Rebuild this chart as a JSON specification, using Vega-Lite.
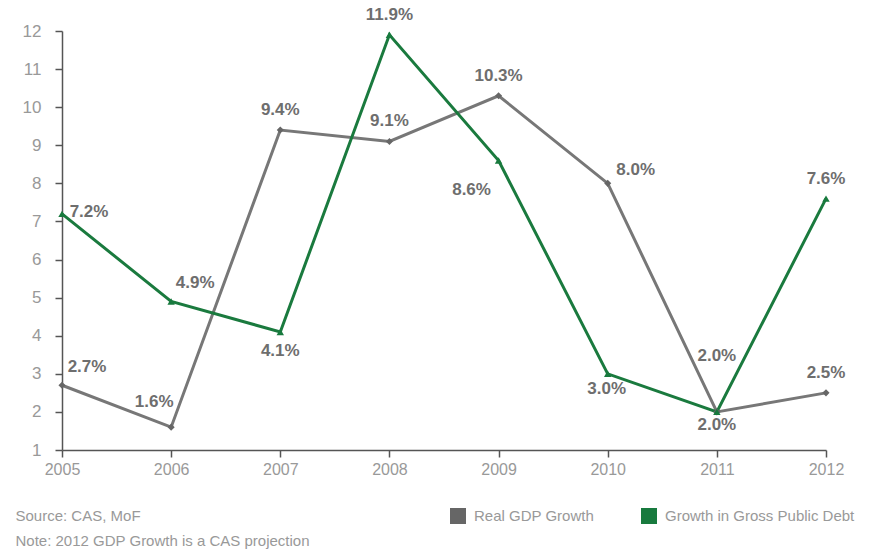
{
  "$schema": "https://vega.github.io/schema/vega-lite/v6.json",
  "width": 764,
  "height": 419,
  "autosize": {"type": "none"},
  "padding": {"left": 62, "top": 31, "right": 53, "bottom": 105},
  "background": "white",
  "config": {
    "view": {"stroke": null},
    "font": "'Liberation Sans', Arial, sans-serif"
  },
  "data": {
    "values": [
      {"year": 2005, "series": "Real GDP Growth", "value": 2.7},
      {"year": 2006, "series": "Real GDP Growth", "value": 1.6},
      {"year": 2007, "series": "Real GDP Growth", "value": 9.4},
      {"year": 2008, "series": "Real GDP Growth", "value": 9.1},
      {"year": 2009, "series": "Real GDP Growth", "value": 10.3},
      {"year": 2010, "series": "Real GDP Growth", "value": 8.0},
      {"year": 2011, "series": "Real GDP Growth", "value": 2.0},
      {"year": 2012, "series": "Real GDP Growth", "value": 2.5},
      {"year": 2005, "series": "Growth in Gross Public Debt", "value": 7.2},
      {"year": 2006, "series": "Growth in Gross Public Debt", "value": 4.9},
      {"year": 2007, "series": "Growth in Gross Public Debt", "value": 4.1},
      {"year": 2008, "series": "Growth in Gross Public Debt", "value": 11.9},
      {"year": 2009, "series": "Growth in Gross Public Debt", "value": 8.6},
      {"year": 2010, "series": "Growth in Gross Public Debt", "value": 3.0},
      {"year": 2011, "series": "Growth in Gross Public Debt", "value": 2.0},
      {"year": 2012, "series": "Growth in Gross Public Debt", "value": 7.6}
    ]
  },
  "transform": [
    {"calculate": "format(datum.value, '.1f') + '%'", "as": "label"},
    {"calculate": "datum.series === 'Real GDP Growth' ? 'G' : 'D'", "as": "s"}
  ],
  "encoding": {
    "x": {
      "field": "year",
      "type": "quantitative",
      "scale": {"domain": [2005, 2012], "nice": false, "zero": false},
      "axis": {
        "title": ["Source: CAS, MoF", "Note: 2012 GDP Growth is a CAS projection"],
        "titleAnchor": "start",
        "titleAlign": "left",
        "titleBaseline": "top",
        "titleX": -47,
        "titleY": 58,
        "titleFontSize": 15,
        "titleFontWeight": "normal",
        "titleColor": "#999999",
        "titleLineHeight": 25,
        "values": [2005, 2006, 2007, 2008, 2009, 2010, 2011, 2012],
        "format": "d",
        "grid": false,
        "domainColor": "#555555",
        "domainWidth": 1.5,
        "tickColor": "#555555",
        "tickWidth": 1.5,
        "tickSize": 7,
        "labelColor": "#999999",
        "labelFontSize": 16,
        "labelPadding": 4,
        "labelFlush": false
      }
    },
    "y": {
      "field": "value",
      "type": "quantitative",
      "scale": {"domain": [1, 12], "nice": false, "zero": false},
      "axis": {
        "title": null,
        "values": [1, 2, 3, 4, 5, 6, 7, 8, 9, 10, 11, 12],
        "grid": false,
        "domainColor": "#555555",
        "domainWidth": 1.5,
        "tickColor": "#555555",
        "tickWidth": 1.5,
        "tickSize": 7,
        "labelColor": "#999999",
        "labelFontSize": 17,
        "labelPadding": 14
      }
    }
  },
  "layer": [
    {
      "transform": [{"filter": "datum.s === 'G'"}],
      "mark": {"type": "line", "strokeWidth": 3, "color": "#777777"},
      "encoding": {}
    },
    {
      "transform": [{"filter": "datum.s === 'D'"}],
      "mark": {"type": "line", "strokeWidth": 3, "color": "#1a7a3e"},
      "encoding": {}
    },
    {
      "transform": [{"filter": "datum.s === 'G'"}],
      "mark": {"type": "point", "shape": "diamond", "filled": true, "opacity": 1, "size": 50},
      "encoding": {
        "color": {
          "field": "series",
          "type": "nominal",
          "scale": {
            "domain": ["Real GDP Growth", "Growth in Gross Public Debt"],
            "range": ["#666666", "#187a3e"]
          },
          "legend": {
            "title": null,
            "orient": "none",
            "legendX": 388,
            "legendY": 477,
            "direction": "horizontal",
            "symbolType": "square",
            "symbolSize": 256,
            "symbolStrokeWidth": 0,
            "symbolOpacity": 1,
            "labelColor": "#999999",
            "labelFontSize": 15,
            "labelOffset": 8,
            "labelLimit": 400,
            "columnPadding": 46
          }
        }
      }
    },
    {
      "transform": [{"filter": "datum.s === 'D'"}],
      "mark": {"type": "point", "shape": "triangle-up", "filled": true, "opacity": 1, "size": 55},
      "encoding": {
        "color": {
          "field": "series",
          "type": "nominal",
          "legend": {
            "title": null,
            "orient": "none",
            "legendX": 388,
            "legendY": 477,
            "direction": "horizontal",
            "symbolType": "square",
            "symbolSize": 256,
            "symbolStrokeWidth": 0,
            "symbolOpacity": 1,
            "labelColor": "#999999",
            "labelFontSize": 15,
            "labelOffset": 8,
            "labelLimit": 400,
            "columnPadding": 46
          }
        }
      }
    },
    {
      "transform": [{"filter": "(datum.s === 'G' && (datum.year === 2007 || datum.year === 2008 || datum.year === 2009 || datum.year === 2012)) || (datum.s === 'D' && (datum.year === 2008 || datum.year === 2012))"}],
      "mark": {"type": "text", "dy": -20, "fontWeight": "bold", "fontSize": 17, "color": "#6e6e6e"},
      "encoding": {"text": {"field": "label"}}
    },
    {
      "transform": [{"filter": "datum.s === 'G' && datum.year === 2005"}],
      "mark": {"type": "text", "dx": 25, "dy": -18, "fontWeight": "bold", "fontSize": 17, "color": "#6e6e6e"},
      "encoding": {"text": {"field": "label"}}
    },
    {
      "transform": [{"filter": "datum.s === 'G' && datum.year === 2006"}],
      "mark": {"type": "text", "dx": -17, "dy": -25, "fontWeight": "bold", "fontSize": 17, "color": "#6e6e6e"},
      "encoding": {"text": {"field": "label"}}
    },
    {
      "transform": [{"filter": "datum.s === 'G' && datum.year === 2010"}],
      "mark": {"type": "text", "dx": 28, "dy": -13, "fontWeight": "bold", "fontSize": 17, "color": "#6e6e6e"},
      "encoding": {"text": {"field": "label"}}
    },
    {
      "transform": [{"filter": "datum.s === 'G' && datum.year === 2011"}],
      "mark": {"type": "text", "dx": 0, "dy": -56, "fontWeight": "bold", "fontSize": 17, "color": "#6e6e6e"},
      "encoding": {"text": {"field": "label"}}
    },
    {
      "transform": [{"filter": "datum.s === 'D' && datum.year === 2005"}],
      "mark": {"type": "text", "dx": 27, "dy": -2, "fontWeight": "bold", "fontSize": 17, "color": "#6e6e6e"},
      "encoding": {"text": {"field": "label"}}
    },
    {
      "transform": [{"filter": "datum.s === 'D' && datum.year === 2006"}],
      "mark": {"type": "text", "dx": 24, "dy": -18, "fontWeight": "bold", "fontSize": 17, "color": "#6e6e6e"},
      "encoding": {"text": {"field": "label"}}
    },
    {
      "transform": [{"filter": "datum.s === 'D' && datum.year === 2007"}],
      "mark": {"type": "text", "dx": 0, "dy": 19, "fontWeight": "bold", "fontSize": 17, "color": "#6e6e6e"},
      "encoding": {"text": {"field": "label"}}
    },
    {
      "transform": [{"filter": "datum.s === 'D' && datum.year === 2009"}],
      "mark": {"type": "text", "dx": -27, "dy": 29, "fontWeight": "bold", "fontSize": 17, "color": "#6e6e6e"},
      "encoding": {"text": {"field": "label"}}
    },
    {
      "transform": [{"filter": "datum.s === 'D' && datum.year === 2010"}],
      "mark": {"type": "text", "dx": -1, "dy": 15, "fontWeight": "bold", "fontSize": 17, "color": "#6e6e6e"},
      "encoding": {"text": {"field": "label"}}
    },
    {
      "transform": [{"filter": "datum.s === 'D' && datum.year === 2011"}],
      "mark": {"type": "text", "dx": 0, "dy": 13, "fontWeight": "bold", "fontSize": 17, "color": "#6e6e6e"},
      "encoding": {"text": {"field": "label"}}
    }
  ]
}
